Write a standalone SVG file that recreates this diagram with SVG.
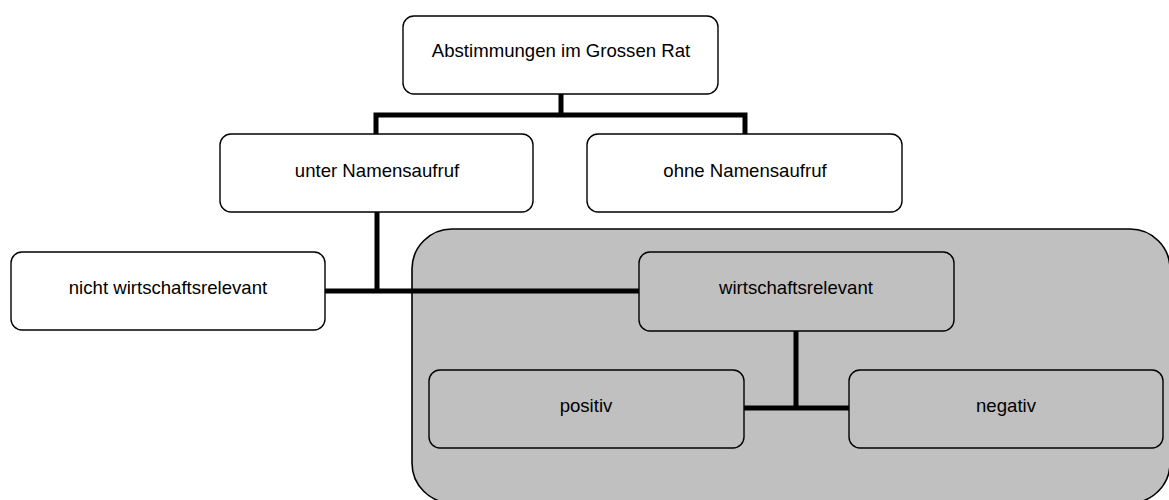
<svg xmlns="http://www.w3.org/2000/svg" width="1169" height="500" viewBox="0 0 1169 500">
<style>
.box{fill:#fff;stroke:#000;stroke-width:1.4}
.gbox{fill:#c0c0c0;stroke:#000;stroke-width:1.4}
.lbl{font-family:"Liberation Sans",Arial,sans-serif;font-size:18.6px;fill:#000;text-anchor:middle}
.con{fill:none;stroke:#000;stroke-width:5;stroke-linecap:butt;stroke-linejoin:miter}
</style>
<rect width="1169" height="500" fill="#fff"/>
<g id="container">
<rect x="412" y="229" width="758" height="274" rx="40" ry="40" fill="#c0c0c0" stroke="#000" stroke-width="1.6"/>
</g>
<g id="connectors">
<path class="con" d="M561 94 V115 M376 134 V115 H745 V134"/>
<path class="con" d="M377 212 V291 M325 291 H639"/>
<path class="con" d="M796 331 V408 M744 408 H849"/>
</g>
<g id="n-root">
<rect class="box" x="403" y="16" width="315" height="78" rx="11"/>
<text class="lbl" x="561" y="57">Abstimmungen im Grossen Rat</text>
</g>
<g id="n-unter">
<rect class="box" x="220" y="134" width="313" height="78" rx="11"/>
<text class="lbl" x="377" y="177">unter Namensaufruf</text>
</g>
<g id="n-ohne">
<rect class="box" x="587" y="134" width="315" height="78" rx="11"/>
<text class="lbl" x="745" y="177">ohne Namensaufruf</text>
</g>
<g id="n-nicht">
<rect class="box" x="11" y="252" width="314" height="78" rx="11"/>
<text class="lbl" x="168" y="294">nicht wirtschaftsrelevant</text>
</g>
<g id="n-wirt">
<rect class="gbox" x="639" y="252" width="315" height="79" rx="11"/>
<text class="lbl" x="796" y="294">wirtschaftsrelevant</text>
</g>
<g id="n-pos">
<rect class="gbox" x="429" y="370" width="315" height="78" rx="11"/>
<text class="lbl" x="586" y="412">positiv</text>
</g>
<g id="n-neg">
<rect class="gbox" x="849" y="370" width="314" height="78" rx="11"/>
<text class="lbl" x="1006" y="412">negativ</text>
</g>
</svg>
